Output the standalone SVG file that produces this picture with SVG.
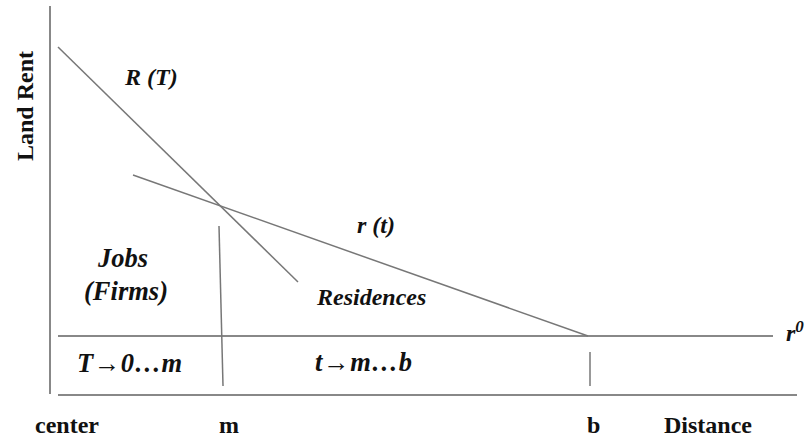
<svg xmlns="http://www.w3.org/2000/svg" width="807" height="439" viewBox="0 0 807 439">
<style>
.ln{stroke:#777;stroke-width:1.5;fill:none}
.ax{stroke:#888;stroke-width:2;fill:none}
.lb{font-family:"Liberation Serif","Times New Roman",serif;font-weight:bold;font-size:24px;fill:#111}
.it{font-family:"Liberation Serif","Times New Roman",serif;font-weight:bold;font-style:italic;font-size:24px;fill:#111}
.big{font-size:26.5px}
</style>
<rect width="807" height="439" fill="#fff"/>
<g id="axes">
<line class="ax" x1="50" y1="6" x2="50" y2="394"/>
<line class="ax" x1="58" y1="395" x2="797" y2="395"/>
<line class="ax" x1="58" y1="336" x2="773" y2="336"/>
</g>
<g id="connectors">
<line class="ln" x1="58" y1="47" x2="298" y2="282"/>
<line class="ln" x1="133" y1="175" x2="588" y2="336"/>
<line class="ln" x1="219" y1="226" x2="223" y2="386"/>
<line class="ln" x1="590" y1="352" x2="590" y2="386"/>
</g>
<g id="labels">
<text class="lb" transform="translate(33,106) rotate(-90)" text-anchor="middle" font-size="25.5">Land Rent</text>
<text class="it" x="125" y="85" font-size="23.5">R (T)</text>
<text class="it" x="357" y="233" font-size="23">r (t)</text>
<text class="it" x="317" y="305" font-size="24.5">Residences</text>
<text class="it big" x="123" y="267" text-anchor="middle">Jobs</text>
<text class="it big" x="126" y="300" text-anchor="middle">(Firms)</text>
<text class="it big" x="77" y="372" textLength="105">T→0…m</text>
<text class="it big" x="315" y="371" textLength="97">t→m…b</text>
<text class="it" x="786" y="341">r<tspan dy="-9" font-size="17">0</tspan></text>
<text class="lb" x="35" y="433">center</text>
<text class="lb" x="219" y="433">m</text>
<text class="lb" x="587" y="433">b</text>
<text class="lb" x="664" y="433">Distance</text>
</g>
</svg>
